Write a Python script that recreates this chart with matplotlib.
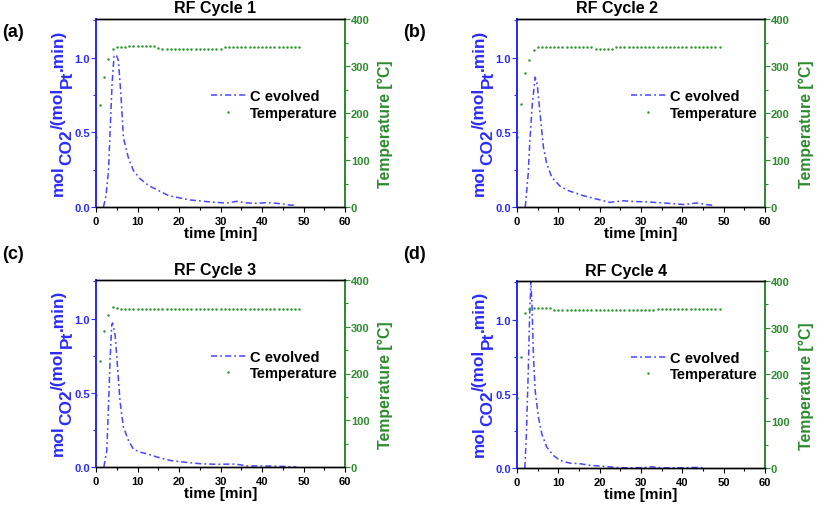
"""Evolution du CO2 et de la temperature sur 4 cycles RF."""

import matplotlib
import matplotlib.pyplot as plt
import numpy as np
from matplotlib.ticker import MultipleLocator
from matplotlib.transforms import IdentityTransform

matplotlib.use("Agg")

plt.rcParams["font.family"] = ["Liberation Sans", "DejaVu Sans"]
plt.rcParams["font.weight"] = "bold"

BLUE = "#2b2bff"
LINE_BLUE = "#4646ff"
GREEN = "#2e8b2e"
DOT_GREEN = "#2f9a2f"

titles = ["RF Cycle 1", "RF Cycle 2", "RF Cycle 3", "RF Cycle 4"]
panel_letters = ["(a)", "(b)", "(c)", "(d)"]
# morceaux du label gauche : (texte, indice ?)
ylabel_pieces = [("mol", False), ("CO2", True), ("/(mol", False), ("Pt", True), (".min)", False)]

# C evolved (mol CO2 / (mol Pt . min))
t_c1 = [1.8, 2.4, 3.0, 3.4, 3.9, 4.35, 4.9, 5.4, 6.0, 6.6, 7.8, 9.0, 10.6, 12.7, 15.1,
        17.5, 19.5, 22.7, 26.8, 29.0, 31.5, 33.9, 36.3, 39.0, 41.0, 42.7, 45.0, 46.7, 47.8]
c1 = [0.0, 0.075, 0.24, 0.51, 0.84, 1.01, 1.02, 0.98, 0.755, 0.465, 0.33, 0.245, 0.19, 0.143, 0.11,
      0.076, 0.065, 0.047, 0.036, 0.031, 0.027, 0.038, 0.027, 0.025, 0.029, 0.027, 0.02, 0.013, 0.012]

t_c2 = [2.0, 2.7, 3.1, 3.7, 4.4, 4.9, 5.6, 6.4, 7.2, 8.4, 10.4, 12.4, 16.0, 19.3, 22.5,
        25.7, 27.3, 29.4, 32.0, 35.3, 38.0, 40.5, 43.4, 46.6, 47.5]
c2 = [0.0, 0.22, 0.44, 0.69, 0.87, 0.82, 0.62, 0.40, 0.29, 0.20, 0.14, 0.11, 0.076, 0.053, 0.031,
      0.042, 0.038, 0.036, 0.033, 0.027, 0.022, 0.016, 0.027, 0.013, 0.012]

t_c3 = [1.9, 2.6, 3.0, 3.4, 3.8, 4.0, 4.6, 5.2, 5.8, 6.6, 7.8, 9.0, 10.6, 12.3, 14.7,
        17.9, 21.1, 25.2, 29.2, 33.0, 34.7, 36.3, 41.0, 45.0, 48.3]
c3 = [0.0, 0.11, 0.40, 0.73, 0.96, 0.97, 0.89, 0.67, 0.44, 0.27, 0.18, 0.12, 0.10, 0.089, 0.067,
      0.044, 0.033, 0.022, 0.018, 0.02, 0.015, 0.007, 0.007, 0.004, 0.0]

t_c4 = [1.9, 2.3, 2.7, 3.0, 3.35, 3.6, 4.0, 4.4, 5.2, 6.0, 7.2, 8.8, 10.4, 12.8, 15.2,
        17.7, 20.0, 22.5, 24.9, 28.0, 31.0, 32.5, 34.0, 37.0, 40.0, 43.0, 45.3]
c4 = [0.0, 0.25, 0.63, 0.97, 1.26, 1.12, 0.74, 0.52, 0.34, 0.23, 0.14, 0.085, 0.051, 0.033, 0.029,
      0.018, 0.013, 0.007, 0.002, 0.001, 0.004, 0.008, 0.003, 0.001, 0.002, 0.004, 0.002]

# Temperature (degC), une mesure par minute de 0 a 49 min
t_temp = np.arange(0, 50)
temp1 = [150, 218, 276, 314, 337, 341, 341, 341, 342, 342, 342, 342, 342, 343, 343,
         339, 337, 337, 337, 337, 337, 337, 337, 337, 337, 337, 337, 337, 337, 337,
         337, 341, 341, 341, 341, 341, 341, 341, 341, 341, 341, 341, 341, 341, 341,
         341, 341, 341, 341, 341]
temp2 = [150, 220, 285, 313, 334, 340, 340, 340, 340, 340, 340, 340, 340, 340, 340,
         340, 340, 340, 340, 337, 336, 336, 336, 336, 340, 340, 340, 340, 340, 340,
         340, 340, 340, 340, 340, 340, 340, 340, 340, 340, 340, 340, 340, 340, 340,
         340, 340, 340, 340, 340]
temp3 = [155, 226, 290, 326, 343, 340, 339, 339, 339, 339, 339, 339, 339, 339, 339,
         339, 339, 339, 339, 339, 339, 339, 339, 339, 339, 339, 339, 339, 339, 339,
         339, 339, 339, 339, 339, 339, 339, 339, 339, 339, 339, 339, 339, 339, 339,
         339, 339, 339, 339, 339]
temp4 = [150, 238, 331, 340, 342, 342, 342, 342, 343, 337, 337, 337, 337, 337, 337,
         337, 337, 337, 337, 337, 337, 337, 337, 337, 337, 337, 337, 337, 337, 337,
         337, 337, 337, 337, 341, 341, 341, 341, 341, 341, 341, 341, 341, 341, 341,
         341, 341, 341, 341, 341]

c_times = [t_c1, t_c2, t_c3, t_c4]
c_values = [c1, c2, c3, c4]
temps = [temp1, temp2, temp3, temp4]

# mise en page en pixels (origine en haut a gauche), figure 817x510
W, H = 817, 510
boxes = [(96, 20, 345, 208), (517, 20, 765, 208), (96, 281, 345, 468), (517, 282, 765, 469)]
title_pos = [(215, 13), (617, 13), (215, 275), (626, 276)]
letter_pos = [(2, 37), (403, 37), (2, 259), (403, 259)]

fig = plt.figure(figsize=(W / 100, H / 100), dpi=100)
renderer = fig.canvas.get_renderer()


def draw_ylabel(x_base, y_center, size=12.4, sub_shift=8.5):
    """Label vertical en morceaux, indices de meme taille que le texte."""
    texts = []
    total = 0.0
    for txt, is_sub in ylabel_pieces:
        txt_obj = fig.text(0, 0, txt, fontsize=size, fontweight="bold", color=BLUE,
                           rotation=90, rotation_mode="anchor", ha="left", va="baseline",
                           transform=IdentityTransform())
        length = txt_obj.get_window_extent(renderer).height
        texts.append((txt_obj, is_sub, length))
        total += length
    y = (H - y_center) - total / 2
    for txt_obj, is_sub, length in texts:
        x = x_base + (sub_shift if is_sub else 0)
        txt_obj.set_position((x, y))
        y += length


for i in range(4):
    l, t, r, b = boxes[i]
    ax = fig.add_axes([l / W, 1 - b / H, (r - l) / W, (b - t) / H])
    ax2 = ax.twinx()

    line, = ax.plot(c_times[i], c_values[i], color=LINE_BLUE, lw=1.1,
                    dashes=(4, 2, 1.2, 2), label="C evolved")
    dots, = ax2.plot(t_temp, temps[i], ls="none", marker="o", ms=1.8, mew=0,
                     color=DOT_GREEN, label="Temperature")

    ax.set_xlim(0, 60)
    ax.set_ylim(0, 1.26)
    ax2.set_ylim(0, 400)

    ax.xaxis.set_major_locator(MultipleLocator(10))
    ax.xaxis.set_minor_locator(MultipleLocator(5))
    ax.yaxis.set_major_locator(MultipleLocator(0.5))
    ax.yaxis.set_minor_locator(MultipleLocator(0.25))
    ax2.yaxis.set_major_locator(MultipleLocator(100))
    ax2.yaxis.set_minor_locator(MultipleLocator(50))

    for a in (ax, ax2):
        a.tick_params(which="both", direction="out", top=False, labelsize=8)
        a.tick_params(which="major", length=3.8, width=0.8)
        a.tick_params(which="minor", length=2.2, width=0.8)
        for s in a.spines.values():
            s.set_linewidth(1.0)
        a.spines["left"].set_color(BLUE)
        a.spines["right"].set_color(GREEN)
        a.spines["left"].set_linewidth(1.3)
        a.spines["right"].set_linewidth(1.3)

    ax.tick_params(axis="x", pad=3)
    ax.tick_params(axis="y", which="both", colors=BLUE, pad=0.5)
    ax2.tick_params(axis="y", which="both", colors=GREEN, pad=0.5)
    for lab in ax.get_xticklabels() + ax.get_yticklabels() + ax2.get_yticklabels():
        lab.set_fontweight("bold")

    ax.set_xlabel("time [min]", fontsize=11, fontweight="bold", labelpad=0)

    # label droit, legerement decale vers le bas comme dans l'original
    ax2.text(294 / (r - l), (b - (t + 104.5)) / (b - t), "Temperature [°C]",
             transform=ax2.transAxes, fontsize=11.4, fontweight="bold", color=GREEN,
             rotation=90, rotation_mode="anchor", ha="center", va="baseline")

    draw_ylabel(l - 33, (t + b) / 2 - 1.5)

    fig.text(title_pos[i][0] / W, 1 - title_pos[i][1] / H, titles[i], fontsize=11.5,
             fontweight="bold", ha="center", va="baseline")

    ax2.legend([line, dots], ["C evolved", "Temperature"], loc="center right",
               bbox_to_anchor=(1.0, 0.545), frameon=False, fontsize=10.5,
               handlelength=2.4, handletextpad=0.3, labelspacing=0.15,
               borderaxespad=0.1, numpoints=1)

    fig.text(letter_pos[i][0] / W, 1 - letter_pos[i][1] / H, panel_letters[i],
             fontsize=13, fontweight="bold", va="baseline")

fig.savefig("out.png", dpi=100)
plt.close(fig)
